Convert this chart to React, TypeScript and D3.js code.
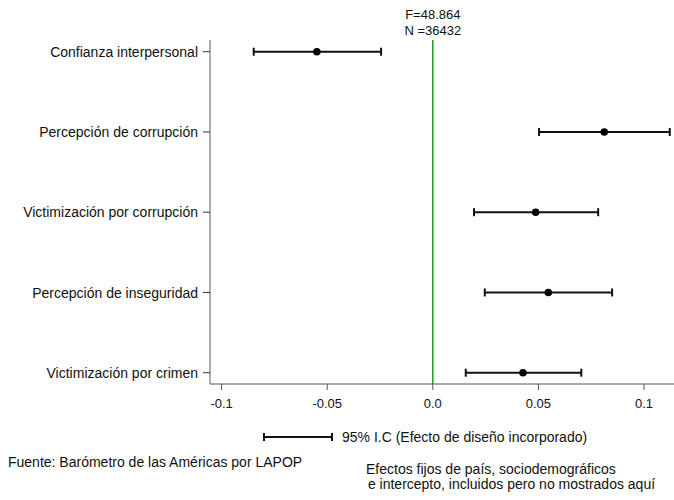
import React from "react";
import * as d3 from "d3";

// coefficients
const labels = [
  "Confianza interpersonal",
  "Percepción de corrupción",
  "Victimización por corrupción",
  "Percepción de inseguridad",
  "Victimización por crimen",
];
const estimates = [-0.0549, 0.0812, 0.0487, 0.0547, 0.0427];
const lower = [-0.0848, 0.0503, 0.0195, 0.0246, 0.0156];
const upper = [-0.0245, 0.1122, 0.0783, 0.0849, 0.0703];
const xTicks = [-0.1, -0.05, 0.0, 0.05, 0.1];
const xTickLabels = ["-0.1", "-0.05", "0.0", "0.05", "0.1"];

const W = 674;
const H = 500;
const font = "'Liberation Sans', Arial, sans-serif";

const App = () => {
  const x = d3.scaleLinear().domain([-0.1055, 0.1142]).range([210, 674]);
  const y = d3.scalePoint<string>().domain(labels).range([51.7, 372.7]);
  const axisY = 384;
  const top = 40;
  const cap = 4;

  return (
    <svg
      width={W}
      height={H}
      style={{ position: "absolute", left: 0, top: 0, background: "#fff" }}
      fontFamily={font}
      fill="#111"
    >
      {/* header stats */}
      <text x={x(0)} y={19} textAnchor="middle" fontSize={13}>
        F=48.864
      </text>
      <text x={x(0)} y={35} textAnchor="middle" fontSize={13}>
        N =36432
      </text>

      {/* y axis */}
      <line x1={210} x2={210} y1={top} y2={axisY} stroke="#777" strokeWidth={1.2} />
      {labels.map((l) => (
        <g key={l}>
          <line x1={203} x2={210} y1={y(l)} y2={y(l)} stroke="#333" strokeWidth={1} />
          <text x={198} y={y(l)!} dy="0.37em" textAnchor="end" fontSize={14}>
            {l}
          </text>
        </g>
      ))}

      {/* x axis */}
      <line x1={210} x2={674} y1={axisY} y2={axisY} stroke="#555" strokeWidth={1.2} />
      {xTicks.map((t, i) => (
        <g key={t}>
          <line x1={x(t)} x2={x(t)} y1={axisY} y2={axisY + 6} stroke="#555" strokeWidth={1} />
          <text x={x(t)} y={axisY + 24} textAnchor="middle" fontSize={13}>
            {xTickLabels[i]}
          </text>
        </g>
      ))}

      {/* zero reference */}
      <line x1={x(0)} x2={x(0)} y1={top} y2={axisY} stroke="#1a9a1a" strokeWidth={1.5} />

      {/* error bars */}
      {labels.map((l, i) => {
        const cy = y(l)!;
        return (
          <g key={l} stroke="#111" strokeWidth={2}>
            <line x1={x(lower[i])} x2={x(upper[i])} y1={cy} y2={cy} />
            <line x1={x(lower[i])} x2={x(lower[i])} y1={cy - cap} y2={cy + cap} />
            <line x1={x(upper[i])} x2={x(upper[i])} y1={cy - cap} y2={cy + cap} />
            <circle cx={x(estimates[i])} cy={cy} r={3.8} fill="#000" stroke="none" />
          </g>
        );
      })}

      {/* legend */}
      <g stroke="#111" strokeWidth={2}>
        <line x1={264} x2={332} y1={437} y2={437} />
        <line x1={264} x2={264} y1={433} y2={441} />
        <line x1={332} x2={332} y1={433} y2={441} />
      </g>
      <text x={342} y={437} dy="0.37em" fontSize={14}>
        95% I.C (Efecto de diseño incorporado)
      </text>

      {/* notes */}
      <text x={8} y={467} fontSize={14}>
        Fuente: Barómetro de las Américas por LAPOP
      </text>
      <text x={366} y={474} fontSize={14}>
        Efectos fijos de país, sociodemográficos
      </text>
      <text x={364} y={489} fontSize={14} style={{ whiteSpace: "pre" }}>
        {" e intercepto, incluidos pero no mostrados aquí"}
      </text>
    </svg>
  );
};

export default App;
